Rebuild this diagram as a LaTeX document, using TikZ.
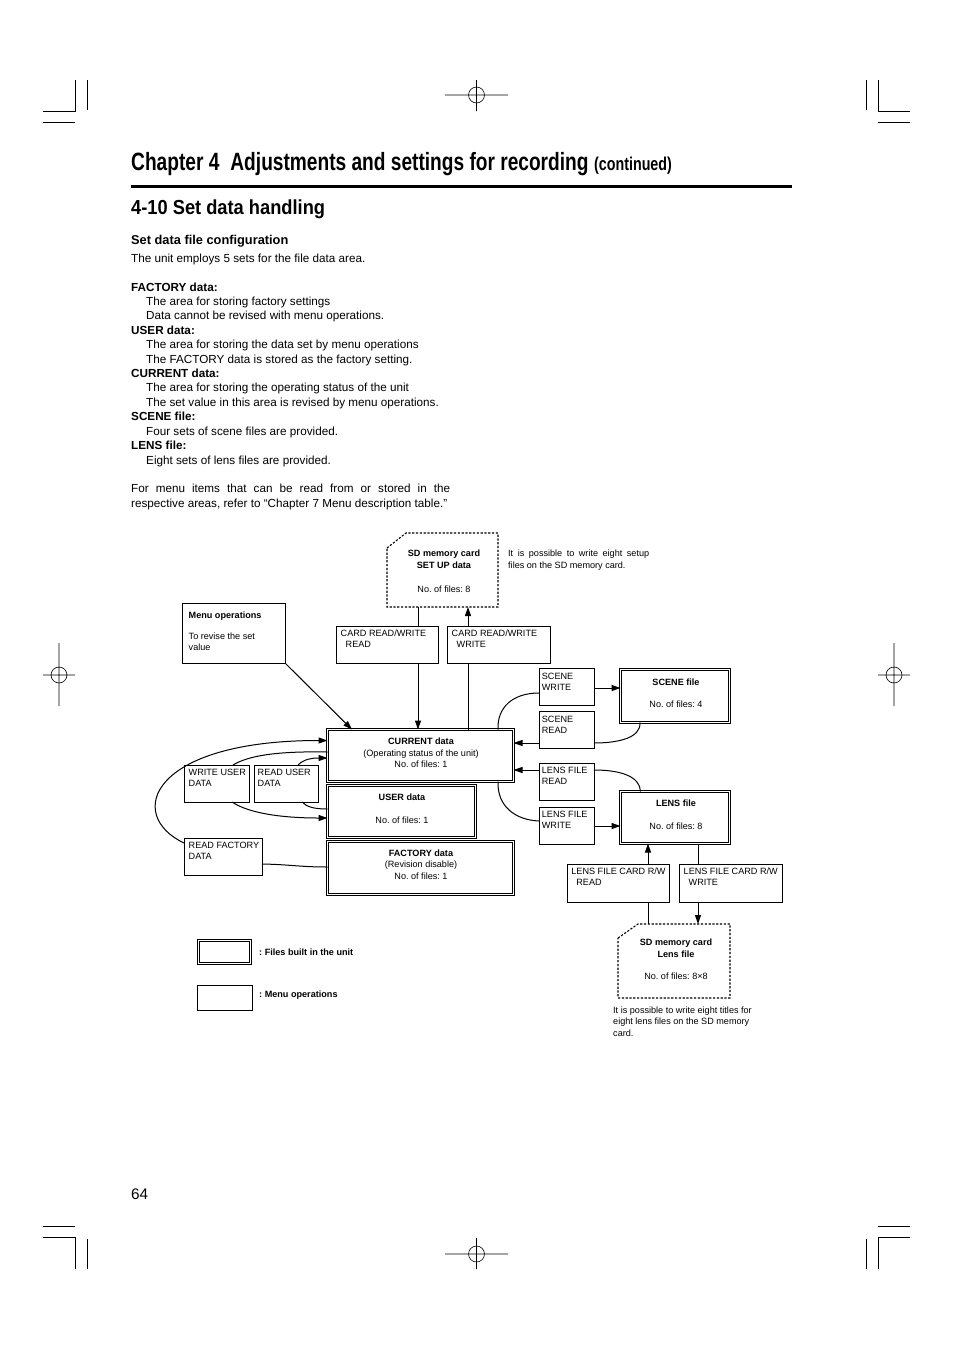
\documentclass[tikz,border=0pt]{standalone}
\usepackage{fontspec}
\setmainfont{Liberation Sans}
\usetikzlibrary{arrows.meta}
\frenchspacing
\newcommand\myC[1]{\parbox[t]{190pt}{\centering #1}}
\newcommand\myL[2][200pt]{\parbox[t]{#1}{\raggedright #2}}
\begin{document}
\begin{tikzpicture}[x=1pt,y=-1pt,
  opbox/.style={draw, line width=0.8pt, fill=white, anchor=north west, inner sep=0pt, outer sep=0pt},
  filebox/.style={draw, double, double distance=1.6pt, line width=0.75pt, fill=white, anchor=north west, inner sep=0pt, outer sep=0pt},
  card/.style={line width=1.1pt, dash pattern=on 2.2pt off 1.6pt},
  conn/.style={line width=1pt},
  arr/.style={conn, -{Triangle[length=9pt,width=6pt]}},
  lbl/.style={font=\fontsize{9.1}{11.2}\selectfont, inner sep=0pt, anchor=base west},
  ftx/.style={font=\fontsize{9.1}{11.8}\selectfont, inner sep=0pt, anchor=base},
  regline/.style={line width=0.6pt},
  cropline/.style={line width=0.7pt}
]
\fill[white] (0,0) rectangle (954,1352);
\useasboundingbox (0,0) rectangle (954,1352);

% ---------- crop and registration marks ----------
\draw[cropline] (43,111.5) -- (75,111.5) -- (75,80);
\draw[cropline] (87,80) -- (87,110);
\draw[cropline] (43,122.5) -- (75,122.5);
\draw[cropline] (910,111.5) -- (878,111.5) -- (878,80);
\draw[cropline] (866,80) -- (866,110);
\draw[cropline] (910,122.5) -- (878,122.5);
\draw[cropline] (43,1237.5) -- (75,1237.5) -- (75,1269);
\draw[cropline] (87,1269) -- (87,1239);
\draw[cropline] (43,1226.5) -- (75,1226.5);
\draw[cropline] (910,1237.5) -- (878,1237.5) -- (878,1269);
\draw[cropline] (866,1269) -- (866,1239);
\draw[cropline] (910,1226.5) -- (878,1226.5);
\draw[regline] (476.5,95) circle (8pt) (445,95) -- (508,95) (476.5,80) -- (476.5,111);
\draw[regline] (476.5,1254) circle (8pt) (445,1254) -- (508,1254) (476.5,1238) -- (476.5,1269);
\draw[regline] (59,675) circle (8pt) (43,675) -- (75,675) (59,643) -- (59,706);
\draw[regline] (894,675) circle (8pt) (878,675) -- (910,675) (894,643) -- (894,706);

% ---------- page headings and text ----------
\node[inner sep=0pt, anchor=base west] (chap) at (131,170)
  {\scalebox{0.765}[1]{\fontsize{25}{30}\selectfont\bfseries Chapter 4\hspace{0.3em} Adjustments and settings for recording}};
\node[inner sep=0pt, anchor=base west] (cont) at (594,170)
  {\scalebox{0.767}[1]{\fontsize{18.6}{22}\selectfont\bfseries (continued)}};
\draw[line width=3pt] (131,186) -- (792,186);
\node[inner sep=0pt, anchor=base west] (sect) at (131,214)
  {\scalebox{0.9}[1]{\fontsize{20.3}{24}\selectfont\bfseries 4-10 Set data handling}};
\node[inner sep=0pt, anchor=base west, font=\fontsize{12.8}{15}\selectfont\bfseries] (sub) at (131,244)
  {Set data file configuration};
\node[inner sep=0pt, anchor=base west, font=\fontsize{11.7}{14.42}\selectfont] (body) at (131,262.2)
  {\parbox[t]{420pt}{%
  The unit employs 5 sets for the file data area.\\[14.42pt]
  \textbf{FACTORY data:}\\
  \hspace*{15pt}The area for storing factory settings\\
  \hspace*{15pt}Data cannot be revised with menu operations.\\
  \textbf{USER data:}\\
  \hspace*{15pt}The area for storing the data set by menu operations\\
  \hspace*{15pt}The FACTORY data is stored as the factory setting.\\
  \textbf{CURRENT data:}\\
  \hspace*{15pt}The area for storing the operating status of the unit\\
  \hspace*{15pt}The set value in this area is revised by menu operations.\\
  \textbf{SCENE file:}\\
  \hspace*{15pt}Four sets of scene files are provided.\\
  \textbf{LENS file:}\\
  \hspace*{15pt}Eight sets of lens files are provided.\\[14.42pt]
  \makebox[319pt][s]{For menu items that can be read from or stored in the}\\
  respective areas, refer to “Chapter 7 Menu description table.”}};
\node[inner sep=0pt, anchor=base west, font=\fontsize{15.3}{18}\selectfont] (pnum) at (131,1199.5) {64};

% ---------- SD memory cards ----------
\draw[card] (387,548) -- (406,533) -- (498,533) -- (498,607) -- (387,607) -- cycle;
\coordinate (sdsB1) at (418,607);
\coordinate (sdsB2) at (468,607);
\node[ftx, font=\fontsize{9.1}{12}\selectfont] (sdsT) at (444,556.2)
  {\myC{\textbf{SD memory card}\\\textbf{SET UP data}\\[12pt]No. of files: 8}};
\node[lbl, font=\fontsize{9.1}{12}\selectfont] (sdsN) at (508,556.2)
  {\myL[145pt]{\makebox[141pt][s]{It is possible to write eight setup}\\files on the SD memory card.}};

\draw[card] (618,938) -- (638,924) -- (730,924) -- (730,998) -- (618,998) -- cycle;
\coordinate (sdlT1) at (648,924);
\coordinate (sdlT2) at (698,924);
\node[ftx, font=\fontsize{9.1}{11.7}\selectfont] (sdlT) at (676,945.5)
  {\myC{\textbf{SD memory card}\\\textbf{Lens file}\\[11pt]No. of files: 8×8}};
\node[lbl, font=\fontsize{9.1}{11.7}\selectfont] (sdlN) at (613,1013.2)
  {\myL[160pt]{It is possible to write eight titles for\\eight lens files on the SD memory\\card.}};

% ---------- operation boxes ----------
\node[opbox, minimum width=103pt, minimum height=60pt] (menu) at (182.5,603.5) {};
\node[lbl] (menuT) at (188.5,618.2)
  {\myL{\textbf{Menu operations}\\[10pt]To revise the set\\value}};
\node[opbox, minimum width=102pt, minimum height=37pt] (crr) at (336,626) {};
\node[lbl] (crrT) at (340.5,636.5) {\myL{CARD READ/WRITE\\\hspace*{5pt}READ}};
\node[opbox, minimum width=103pt, minimum height=37pt] (cwr) at (447,626) {};
\node[lbl] (cwrT) at (451.5,636.5) {\myL{CARD READ/WRITE\\\hspace*{5pt}WRITE}};
\node[opbox, minimum width=65pt, minimum height=37pt] (wud) at (184,765) {};
\node[lbl] (wudT) at (188.5,775) {\myL{WRITE USER\\DATA}};
\node[opbox, minimum width=64pt, minimum height=37pt] (rud) at (254,765) {};
\node[lbl] (rudT) at (257.5,775) {\myL{READ USER\\DATA}};
\node[opbox, minimum width=78pt, minimum height=37pt] (rfd) at (184,838) {};
\node[lbl] (rfdT) at (188.5,848.2) {\myL{READ FACTORY\\DATA}};
\node[opbox, minimum width=55pt, minimum height=37pt] (scw) at (539,668) {};
\node[lbl] (scwT) at (541.7,679) {\myL{SCENE\\WRITE}};
\node[opbox, minimum width=55pt, minimum height=37pt] (scr) at (539,711) {};
\node[lbl] (scrT) at (541.7,722.2) {\myL{SCENE\\READ}};
\node[opbox, minimum width=55pt, minimum height=37pt] (lfr) at (539,763) {};
\node[lbl] (lfrT) at (541.7,773.4) {\myL{LENS FILE\\READ}};
\node[opbox, minimum width=55pt, minimum height=37pt] (lfw) at (539,807) {};
\node[lbl] (lfwT) at (541.7,817.2) {\myL{LENS FILE\\WRITE}};
\node[opbox, minimum width=102pt, minimum height=38pt] (lcr) at (567,864) {};
\node[lbl] (lcrT) at (571.2,874) {\myL{LENS FILE CARD R/W\\\hspace*{5pt}READ}};
\node[opbox, minimum width=103pt, minimum height=38pt] (lcw) at (679,864) {};
\node[lbl] (lcwT) at (683.5,874) {\myL{LENS FILE CARD R/W\\\hspace*{5pt}WRITE}};

% ---------- file boxes ----------
\node[filebox, minimum width=186pt, minimum height=52pt] (cur) at (327.5,729.5) {};
\node[ftx] (curT) at (421,744.2)
  {\myC{\textbf{CURRENT data}\\(Operating status of the unit)\\No. of files: 1}};
\node[filebox, minimum width=148pt, minimum height=52pt] (usr) at (327.5,785.5) {};
\node[ftx] (usrT) at (402,800.2) {\myC{\textbf{USER data}\\[11.4pt]No. of files: 1}};
\node[filebox, minimum width=186pt, minimum height=53pt] (fac) at (327.5,841.5) {};
\node[ftx, font=\fontsize{9.1}{11.5}\selectfont] (facT) at (421,856.2)
  {\myC{\textbf{FACTORY data}\\(Revision disable)\\No. of files: 1}};
\node[filebox, minimum width=109pt, minimum height=53pt] (scf) at (620.5,669.5) {};
\node[ftx] (scfT) at (676,685) {\myC{\textbf{SCENE file}\\[11pt]No. of files: 4}};
\node[filebox, minimum width=109pt, minimum height=52pt] (lnf) at (620.5,791.5) {};
\node[ftx] (lnfT) at (676,806.5) {\myC{\textbf{LENS file}\\[11pt]No. of files: 8}};

% ---------- legend ----------
\node[filebox, minimum width=52pt, minimum height=23pt] (legF) at (198.5,940.5) {};
\node[lbl, font=\fontsize{9.1}{11}\selectfont\bfseries] (legFT) at (259,955.5) {: Files built in the unit};
\node[opbox, minimum width=55pt, minimum height=25pt] (legM) at (197,985) {};
\node[lbl, font=\fontsize{9.1}{11}\selectfont\bfseries] (legMT) at (259,997) {: Menu operations};

% ---------- connectors: top ----------
\draw[conn] (sdsB1) -- (sdsB1 |- crr.north);
\draw[arr] (sdsB1 |- crr.south) -- (sdsB1 |- cur.north);
\draw[conn] (sdsB2 |- cur.north) -- (sdsB2 |- cwr.south);
\draw[arr] (sdsB2 |- cwr.north) -- (sdsB2);
\draw[arr] (menu.south east) -- ([xshift=24.5pt]cur.north west);

% ---------- connectors: left ----------
\draw[arr] ([yshift=-5pt]rfd.north west) .. controls (125,815) and (150,740.5) .. ([yshift=-11pt]cur.north west);
\draw[conn] ([yshift=-26pt]rfd.north east) .. controls (290,864.5) and (300,867) .. ([yshift=-25.5pt]fac.north west);
\draw[conn] ([yshift=-22.5pt]cur.north west) .. controls (275,751) and (248,756) .. ([xshift=49pt]wud.north west);
\draw[arr] ([xshift=48pt]wud.south west) .. controls (250,814) and (285,818) .. ([yshift=-32.5pt]usr.north west);
\draw[conn] ([yshift=-23.5pt]usr.north west) .. controls (314,809) and (307,807) .. ([xshift=48pt]rud.south west);
\draw[arr] ([xshift=44pt]rud.north west) .. controls (304,759) and (312,758) .. ([yshift=-28.5pt]cur.north west);

% ---------- connectors: right ----------
\coordinate (swR) at ([yshift=-20pt]scw.north east);
\coordinate (srL) at ([yshift=-32pt]scr.north west);
\coordinate (lrL) at ([yshift=-7pt]lfr.north west);
\coordinate (lwR) at ([yshift=-19pt]lfw.north east);
\draw[conn] ([xshift=170.5pt]cur.north west) .. controls (497,708) and (512,693) .. ([yshift=-25pt]scw.north west);
\draw[arr] (swR) -- (swR -| scf.west);
\draw[conn] ([xshift=19.5pt]scf.south west) .. controls (641,738) and (618,743) .. ([yshift=-32pt]scr.north east);
\draw[arr] (srL) -- (srL -| cur.east);
\draw[conn] ([xshift=20pt]lnf.north west) .. controls (640,777) and (622,770) .. ([yshift=-7pt]lfr.north east);
\draw[arr] (lrL) -- (lrL -| cur.east);
\draw[conn] ([xshift=170.5pt]cur.south west) .. controls (497,806) and (515,820) .. ([yshift=-14pt]lfw.north west);
\draw[arr] (lwR) -- (lwR -| lnf.west);

% ---------- connectors: bottom ----------
\draw[conn] (sdlT1) -- (sdlT1 |- lcr.south);
\draw[arr] (sdlT1 |- lcr.north) -- (sdlT1 |- lnf.south);
\draw[conn] (sdlT2 |- lnf.south) -- (sdlT2 |- lcw.north);
\draw[arr] (sdlT2 |- lcw.south) -- (sdlT2);
\end{tikzpicture}
\end{document}
